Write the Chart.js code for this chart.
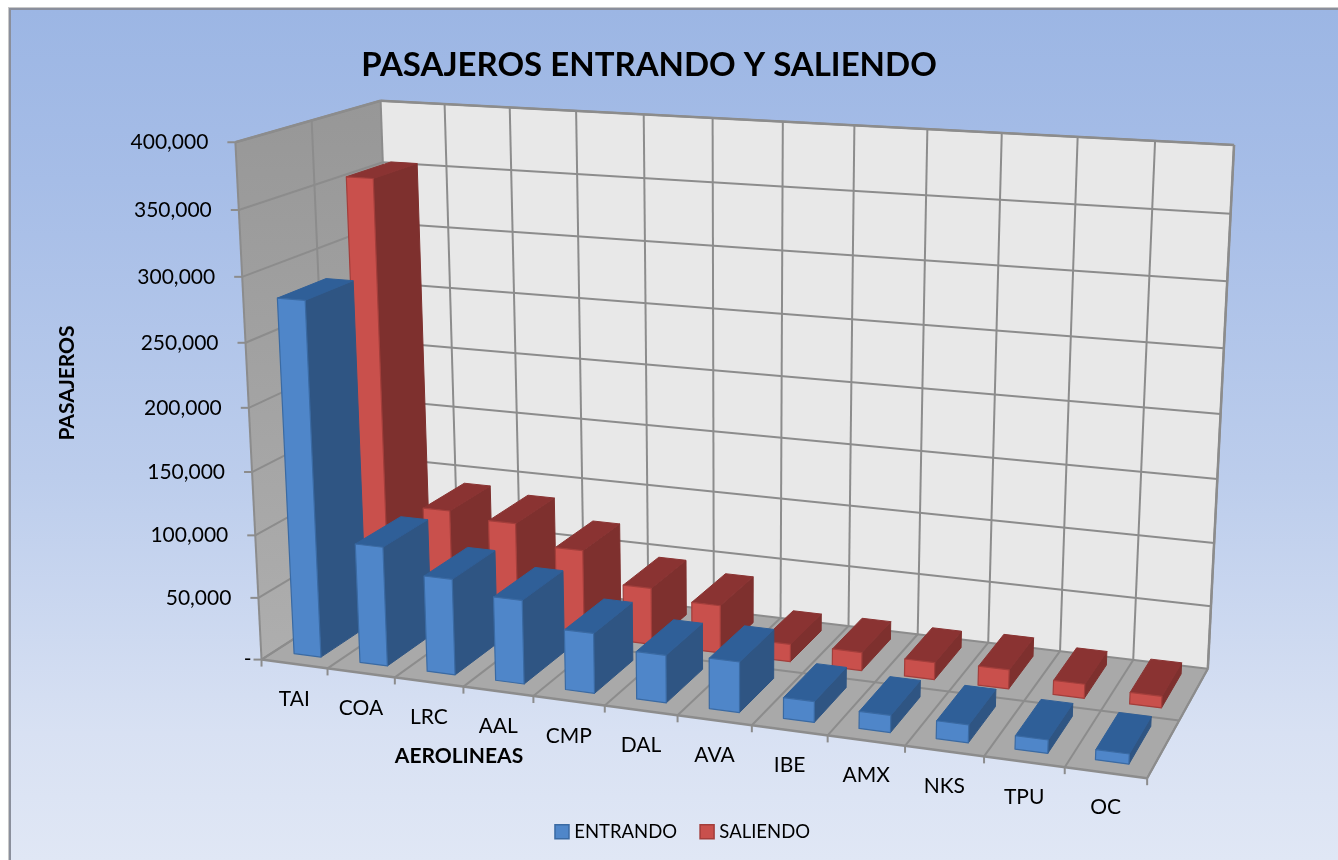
<!DOCTYPE html>
<html><head><meta charset="utf-8">
<style>
html,body{margin:0;padding:0;background:#fff;overflow:hidden}
#frame{position:absolute;left:9px;top:8px;width:1329px;height:852px;box-sizing:border-box;border-left:2px solid #8a8f9c;border-top:2px solid #8a8f9c;outline:1px solid #c8c8c8;background:linear-gradient(180deg,#9cb6e4 0%,#a6bde7 20%,#bccdec 55%,#d8e1f3 85%,#e0e7f5 100%)}
canvas{position:absolute;left:0;top:0}
</style>
<script src="https://cdn.jsdelivr.net/npm/chart.js@4"></script>
</head><body><div id="frame"></div><canvas id="c" width="1338" height="860"></canvas>
<script>
const categories=['TAI','COA','LRC','AAL','CMP','DAL','AVA','IBE','AMX','NKS','TPU','OC'];
const entrando=[281000,95000,76000,66000,47000,37000,39000,16000,13000,13500,10000,7500];
const saliendo=[354000,91000,86500,70500,46000,38500,14000,14500,13500,15000,11000,9000];
const yMax=400000, yStep=50000;

// Projection of the chart's unit box (u across, v up, w depth) to the page
const anchors=[[0,0,0,262,660],[0,1,0,235,142],[0,0,1,397,572],[0,1,1,381,101],[1,0,1,1208,669],[1,1,1,1234,145],[1,0,0,1147,778]];
function solveCamera(){
  const A=[],b=[];
  anchors.forEach(([u,v,w,x,y])=>{
    A.push([u,v,w,1,0,0,0,0,-x*u,-x*v,-x*w]);b.push(x);
    A.push([0,0,0,0,u,v,w,1,-y*u,-y*v,-y*w]);b.push(y);
  });
  const n=11,M=[];
  for(let i=0;i<n;i++){M[i]=[];for(let j=0;j<=n;j++){let s=0;for(let k=0;k<A.length;k++)s+=A[k][i]*(j<n?A[k][j]:b[k]);M[i][j]=s;}}
  for(let i=0;i<n;i++){let p=i;for(let r=i+1;r<n;r++)if(Math.abs(M[r][i])>Math.abs(M[p][i]))p=r;[M[i],M[p]]=[M[p],M[i]];
    for(let r=0;r<n;r++){if(r===i)continue;const f=M[r][i]/M[i][i];for(let j=i;j<=n;j++)M[r][j]-=f*M[i][j];}}
  return M.map((r,i)=>r[n]/r[i]);
}
const P=solveCamera();
function proj(u,v,w){const d=P[8]*u+P[9]*v+P[10]*w+1;return [(P[0]*u+P[1]*v+P[2]*w+P[3])/d,(P[4]*u+P[5]*v+P[6]*w+P[7])/d];}

const FONT='Lato, "Open Sans", sans-serif';
const depthRows=[[0.09,0.42],[0.59,0.92]]; // front/back slot of each series
const faces=[{front:'#4f86c9',side:'#2f5583',top:'#2f5f98',edge:'#3a6aa3'},{front:'#c9504c',side:'#7e302e',top:'#8a3332',edge:'#a33e3b'}];

function poly(ctx,pts,fill,stroke,lw){ctx.beginPath();pts.forEach((p,i)=>i?ctx.lineTo(p[0],p[1]):ctx.moveTo(p[0],p[1]));ctx.closePath();if(fill){ctx.fillStyle=fill;ctx.fill();}if(stroke){ctx.strokeStyle=stroke;ctx.lineWidth=lw||1;ctx.stroke();}}
function seg(ctx,a,b,c,lw){ctx.beginPath();ctx.moveTo(a[0],a[1]);ctx.lineTo(b[0],b[1]);ctx.strokeStyle=c;ctx.lineWidth=lw;ctx.stroke();}

const box3d={
  id:'box3d',
  afterLayout(chart){chart.titleBlock.left=0;chart.titleBlock.right=1298;},
  beforeDatasetsDraw(chart){
    const ctx=chart.ctx,ys=chart.scales.y,n=categories.length,G='#8c8c8c';
    const vOf=t=>(ys.bottom-ys.getPixelForValue(t))/(ys.bottom-ys.top);
    ctx.save();
    // walls
    const lg=ctx.createLinearGradient(0,100,0,660);lg.addColorStop(0,'#979797');lg.addColorStop(1,'#aeaeae');
    poly(ctx,[proj(0,0,0),proj(0,1,0),proj(0,1,1),proj(0,0,1)],lg);
    poly(ctx,[proj(0,0,1),proj(0,1,1),proj(1,1,1),proj(1,0,1)],'#e8e8e8');
    poly(ctx,[proj(0,0,0),proj(0,0,1),proj(1,0,1),proj(1,0,0)],'#a9a9a9');
    // value gridlines + labels
    ys.ticks.forEach(t=>{
      const v=vOf(t.value);
      seg(ctx,proj(0,v,0),proj(0,v,1),G,2);
      seg(ctx,proj(0,v,1),proj(1,v,1),G,2);
      const a=proj(0,v,0);
      seg(ctx,[a[0]-8,a[1]],a,G,2);
      ctx.fillStyle='#000';ctx.font='21px '+FONT;ctx.textAlign='right';ctx.textBaseline='middle';
      ctx.fillText(t.label,a[0]-(t.value===0?10:27),a[1]);
    });
    // category gridlines + labels
    for(let i=0;i<=n;i++){
      const u=i/n,f=proj(u,0,0),b=proj(u,0,1),t=proj(u,1,1);
      seg(ctx,f,b,G,2);seg(ctx,b,t,G,2);
      seg(ctx,f,[f[0],f[1]+7],G,2);
    }
    chart.scales.x.ticks.forEach((t,i)=>{
      const c=proj((i+.5)/n,0,0);
      ctx.fillStyle='#000';ctx.font='21px '+FONT;ctx.textAlign='center';ctx.textBaseline='middle';
      ctx.fillText(t.label,c[0],c[1]+35);
    });
    // series divider on floor and left wall
    seg(ctx,proj(0,0,.5),proj(1,0,.5),G,2);
    seg(ctx,proj(0,0,.5),proj(0,1,.5),G,2);
    // box edges
    seg(ctx,proj(0,1,0),proj(0,0,0),G,2);seg(ctx,proj(0,0,0),proj(1,0,0),G,2.5);seg(ctx,proj(1,0,0),proj(1,0,1),G,2);
    seg(ctx,proj(0,1,0),proj(0,1,1),G,2.5);seg(ctx,proj(0,1,1),proj(1,1,1),G,2.5);seg(ctx,proj(1,1,1),proj(1,0,1),G,2.5);
    // axis titles
    ctx.fillStyle='#000';ctx.font='bold 21px '+FONT;ctx.textAlign='center';ctx.textBaseline='middle';
    ctx.fillText('AEROLINEAS',459,756);
    ctx.translate(67,383);ctx.rotate(-Math.PI/2);ctx.fillText('PASAJEROS',0,0);
    ctx.restore();
  },
  beforeDatasetDraw(){return false;},
  afterDatasetsDraw(chart){
    const ctx=chart.ctx,xs=chart.scales.x,ys=chart.scales.y;
    ctx.save();ctx.lineJoin='round';
    [1,0].forEach(di=>{
      const meta=chart.getDatasetMeta(di),[w0,w1]=depthRows[di],c=faces[di];
      meta.data.forEach(el=>{
        const u0=(el.x-el.width/2-xs.left)/xs.width,u1=(el.x+el.width/2-xs.left)/xs.width;
        const v=(ys.bottom-el.y)/(ys.bottom-ys.top);
        poly(ctx,[proj(u1,0,w0),proj(u1,v,w0),proj(u1,v,w1),proj(u1,0,w1)],c.side,c.side,1);
        poly(ctx,[proj(u0,v,w0),proj(u1,v,w0),proj(u1,v,w1),proj(u0,v,w1)],c.top,c.top,1);
        poly(ctx,[proj(u0,0,w0),proj(u0,v,w0),proj(u1,v,w0),proj(u1,0,w0)],c.front,c.edge,1.2);
      });
    });
    ctx.restore();
  },
  afterDraw(chart){
    const ctx=chart.ctx;ctx.save();
    chart.legend.legendHitBoxes.forEach((h,i)=>{
      const y=h.top+(h.height-14)/2,c=faces[i];
      ctx.fillStyle=c.front;ctx.strokeStyle=c.edge;ctx.lineWidth=1.5;
      ctx.fillRect(h.left,y,14,14);ctx.strokeRect(h.left,y,14,14);
    });
    ctx.restore();
  }
};

new Chart(document.getElementById('c'),{
  type:'bar',
  data:{labels:categories,datasets:[
    {label:'ENTRANDO',data:entrando,backgroundColor:faces[0].front,borderColor:faces[0].edge},
    {label:'SALIENDO',data:saliendo,backgroundColor:faces[1].front,borderColor:faces[1].edge}
  ]},
  plugins:[box3d],
  options:{
    responsive:false,animation:false,
    layout:{padding:{left:27,bottom:9,top:0,right:0}},
    datasets:{bar:{grouped:false,barPercentage:.41,categoryPercentage:1}},
    scales:{
      x:{display:false,type:'category'},
      y:{display:false,min:0,max:yMax,ticks:{stepSize:yStep,callback:v=>v===0?'-':v.toLocaleString('en-US')}}
    },
    plugins:{
      title:{display:true,text:'PASAJEROS ENTRANDO Y SALIENDO',color:'#000',font:{family:FONT,size:33,weight:'bold'},padding:{top:46,bottom:10}},
      legend:{position:'bottom',labels:{color:'#000',font:{family:FONT,size:18.5},boxWidth:10,boxHeight:14,padding:23}},
      tooltip:{enabled:false}
    }
  }
});
</script></body></html>
